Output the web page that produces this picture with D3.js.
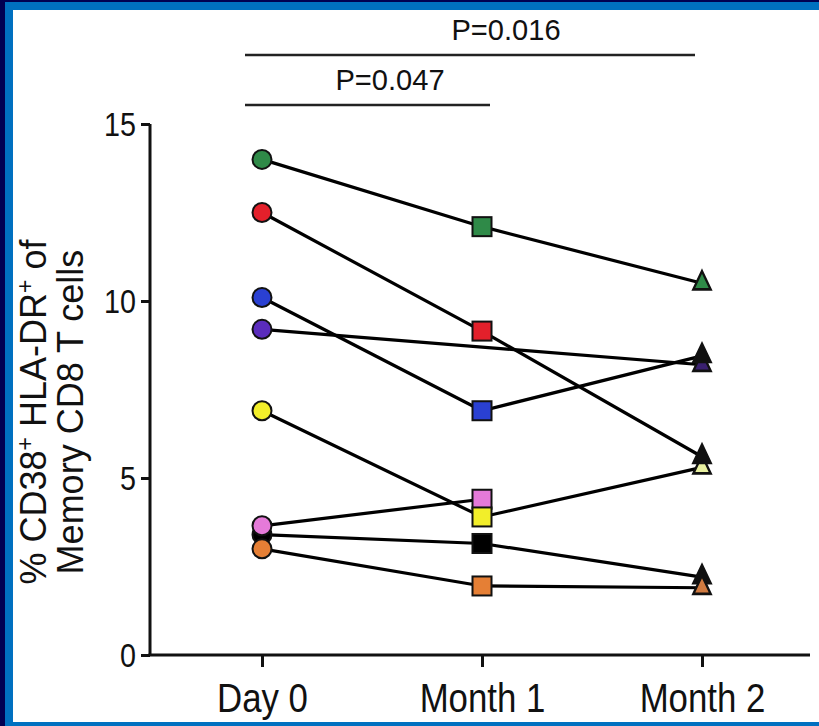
<!DOCTYPE html>
<html>
<head>
<meta charset="utf-8">
<script src="https://cdn.jsdelivr.net/npm/d3@7"></script>
<style>
  html, body { margin: 0; padding: 0; background: #ffffff; }
  svg { display: block; }
  text { font-family: "Liberation Sans", Arial, Helvetica, sans-serif; fill: #111; }
</style>
</head>
<body>
<svg id="chart" width="819" height="726"></svg>
<script>
// Time points on the x axis
const timepoints = ["Day 0", "Month 1", "Month 2"];

// Y axis ticks
const yTicks = [0, 5, 10, 15];

// One subject per row: values at Day 0, Month 1, Month 2 (null = not measured)
const subjects = ["green", "red", "blue", "purple", "yellow", "pink", "black", "orange"];
const day0   = [14.0, 12.5, 10.1, 9.2, 6.9, 3.65, 3.4, 3.0];
const month1 = [12.1, 9.15, 6.9, null, 3.9, 4.4, 3.15, 1.95];
const month2 = [10.5, 5.6, 8.45, 8.2, 5.3, null, 2.2, 1.9];

// Marker fills per subject (circles and squares), and triangle fills at Month 2
const subjectColor = ["#2f8a48", "#e3202b", "#2a40d2", "#5a2cbc", "#f2ee2a", "#e57ad9", "#000000", "#e57f35"];
const month2Fill   = ["#2f8a48", "#111111", "#111111", "#3a2070", "#e8f0a0", "#e57ad9", "#111111", "#d07a40"];

// Significance brackets
const brackets = [
  { from: "Day 0", to: "Month 2", label: "P=0.016" },
  { from: "Day 0", to: "Month 1", label: "P=0.047" }
];

const svg = d3.select("#chart");
const W = 819, H = 726;

// Frame
svg.append("rect").attr("x", 0).attr("y", 0).attr("width", W).attr("height", H).attr("fill", "#000052");
svg.append("rect").attr("x", 5).attr("y", 2).attr("width", W - 5).attr("height", H - 2).attr("fill", "#0070c0");
svg.append("rect").attr("x", 13).attr("y", 10).attr("width", W - 13).attr("height", H - 14).attr("fill", "#ffffff");

const x = d3.scalePoint().domain(timepoints).range([262, 702]);
const y = d3.scaleLinear().domain([0, 15]).range([655, 124]);
const axisX0 = 150;

const squeeze = 0.87;

// Y axis
const yAxis = svg.append("g").attr("transform", `translate(${axisX0},0)`)
  .call(d3.axisLeft(y).tickValues(yTicks).tickSize(11).tickPadding(0).tickFormat(d3.format("d")));
yAxis.select(".domain").attr("stroke", "#111").attr("stroke-width", 3).attr("d", `M0,${y(15)}V${y(0)}`);
yAxis.selectAll(".tick line").attr("stroke", "#111").attr("stroke-width", 3).attr("x1", -9).attr("x2", 0);
yAxis.selectAll(".tick text")
  .attr("font-size", 33).attr("fill", "#111").attr("text-anchor", "end").attr("x", null).attr("dy", null)
  .attr("transform", `translate(-14,11) scale(${squeeze},1)`);

// X axis
const xAxis = svg.append("g").attr("transform", `translate(0,${y(0)})`)
  .call(d3.axisBottom(x).tickSize(12).tickPadding(0));
xAxis.select(".domain").attr("stroke", "#111").attr("stroke-width", 3).attr("d", `M${axisX0 - 1.5},0H810`);
xAxis.selectAll(".tick line").attr("stroke", "#111").attr("stroke-width", 3);
xAxis.selectAll(".tick text")
  .attr("font-size", 40).attr("fill", "#111").attr("y", null).attr("dy", null)
  .attr("transform", `translate(0,57) scale(${squeeze},1)`);

// Y axis title
const ytitle = svg.append("text").attr("transform", "translate(0,412) rotate(-90)")
  .attr("text-anchor", "middle").attr("font-size", 36);
const l1 = ytitle.append("tspan").attr("x", 0).attr("y", 46);
l1.append("tspan").text("% CD38");
l1.append("tspan").attr("baseline-shift", "super").attr("font-size", 23).text("+");
l1.append("tspan").text(" HLA-DR");
l1.append("tspan").attr("baseline-shift", "super").attr("font-size", 23).text("+");
l1.append("tspan").text(" of");
ytitle.append("tspan").attr("x", 0).attr("y", 83).text("Memory CD8 T cells");

// Brackets
const bracketY = [55, 105];
const labelX = [506, 390];
brackets.forEach((b, i) => {
  const x1 = x(b.from) - 17, x2 = x(b.to) + (i === 0 ? -7 : 8);
  svg.append("line").attr("x1", x1).attr("x2", x2).attr("y1", bracketY[i]).attr("y2", bracketY[i])
    .attr("stroke", "#222").attr("stroke-width", 2.5);
  svg.append("text").attr("text-anchor", "middle").attr("font-size", 30)
    .attr("transform", `translate(${labelX[i]},${bracketY[i] - 15}) scale(0.97,1)`)
    .text(b.label);
});

// Subject rows
const rows = subjects.map((s, i) => ({
  name: s,
  color: subjectColor[i],
  tri: month2Fill[i],
  pts: [day0[i], month1[i], month2[i]].map((v, j) => ({ t: timepoints[j], v }))
}));

const line = d3.line().x(d => x(d.t)).y(d => y(d.v));

// Connecting lines
svg.append("g").selectAll("path").data(rows).join("path")
  .attr("d", d => line(d.pts.filter(p => p.v !== null)))
  .attr("fill", "none").attr("stroke", "#000").attr("stroke-width", 3.2);

// Markers: circle at Day 0, square at Month 1, triangle at Month 2
const mk = svg.append("g");
const drawOrder = [3, 6, 7, 5, 4, 2, 1, 0];
drawOrder.forEach(i => {
  const r = rows[i];
  if (r.pts[0].v !== null)
    mk.append("circle").attr("cx", x(r.pts[0].t)).attr("cy", y(r.pts[0].v)).attr("r", 9.5)
      .attr("fill", r.color).attr("stroke", "#111").attr("stroke-width", 2);
});
drawOrder.forEach(i => {
  const r = rows[i];
  if (r.pts[1].v !== null)
    mk.append("rect").attr("x", x(r.pts[1].t) - 9.5).attr("y", y(r.pts[1].v) - 9.5)
      .attr("width", 19).attr("height", 19)
      .attr("fill", r.color).attr("stroke", "#111").attr("stroke-width", 2);
});
const tri = d3.symbol().type(d3.symbolTriangle).size(160);
drawOrder.forEach(i => {
  const r = rows[i];
  if (r.pts[2].v !== null)
    mk.append("path").attr("d", tri()).attr("transform", `translate(${x(r.pts[2].t)},${y(r.pts[2].v)}) scale(0.9,1.1)`)
      .attr("fill", r.tri).attr("stroke", "#111").attr("stroke-width", 2.5);
});
</script>
</body>
</html>
